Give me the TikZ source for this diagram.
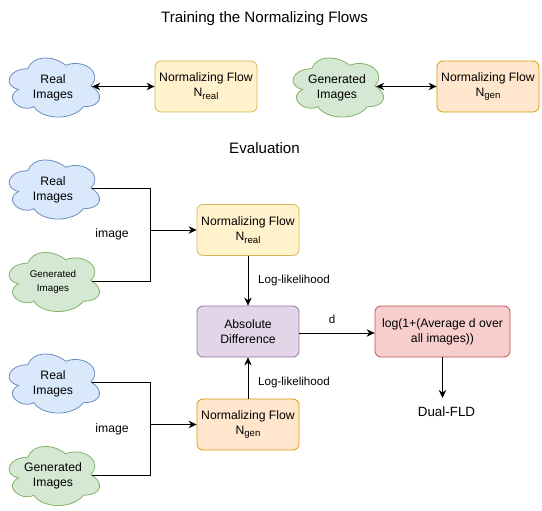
\documentclass[tikz,border=0pt]{standalone}
\usepackage{fontspec}
\setmainfont{Liberation Sans}
\usetikzlibrary{arrows.meta}
\definecolor{bluef}{HTML}{DAE8FC}\definecolor{blued}{HTML}{6C8EBF}
\definecolor{yelf}{HTML}{FFF2CC}\definecolor{yeld}{HTML}{D6B656}
\definecolor{grnf}{HTML}{D5E8D4}\definecolor{grnd}{HTML}{82B366}
\definecolor{orgf}{HTML}{FFE6CC}\definecolor{orgd}{HTML}{D79B00}
\definecolor{purf}{HTML}{E1D5E7}\definecolor{purd}{HTML}{9673A6}
\definecolor{redf}{HTML}{F8CECC}\definecolor{redd}{HTML}{B85450}
\newcommand{\body}{\fontsize{12.2}{15}\selectfont}
\newcommand{\smallbody}{\fontsize{9.8}{13.5}\selectfont}
\newcommand{\edgefont}{\fontsize{11.6}{15}\selectfont}
\newcommand{\sbs}[1]{\raisebox{-2.8pt}{\fontsize{9.6}{10}\selectfont #1}}
\tikzset{
  boxstyle/.style={draw=#1!100,rounded corners=6pt,minimum width=102pt,minimum height=51pt,align=center,line width=0.8pt,inner sep=0pt,font=\body},
  cloudlabel/.style={minimum width=78pt,minimum height=40pt,align=center,inner sep=0pt,font=\body},
  lbl/.style={font=\body,inner sep=0pt},
  title/.style={font=\fontsize{15.1}{18}\selectfont,inner sep=0pt},
  conn/.style={draw=black,line width=0.95pt,-{Stealth[length=8pt,width=7.5pt]}},
  plainconn/.style={draw=black,line width=0.95pt},
  biconn/.style={draw=black,line width=0.95pt,{Stealth[length=8pt,width=7.5pt]}-{Stealth[length=8pt,width=7.5pt]}},
  upone/.style={yshift=1pt},
}
% cloud: #1 name, #2 center x, #3 center y, #4 fill, #5 draw, #6 text, #7 font
\newcommand{\cloudat}[7]{%
  \begin{scope}[shift={(#2-50.5,#3-35)}]
  \filldraw[fill=#4,draw=#5,line width=0.8pt]
    (25.25,17.25) .. controls (5.05,17.25) and (0,34.5) .. (16.16,37.95)
    .. controls (0,45.54) and (18.18,62.1) .. (31.31,55.2)
    .. controls (40.4,69) and (70.7,69) .. (80.8,55.2)
    .. controls (101,55.2) and (101,41.4) .. (88.4,34.5)
    .. controls (101,20.7) and (80.8,6.9) .. (63.1,13.8)
    .. controls (50.5,3.45) and (30.3,3.45) .. (25.25,17.25) -- cycle;
  \end{scope}
  \node[cloudlabel,font=#7] (#1) at (#2,#3+1) {#6};
}
\begin{document}
\begin{tikzpicture}[x=1pt,y=-1pt]
\useasboundingbox (0,0) rectangle (542,511);
\node[title] (t1) at (264.5,19) {Training the Normalizing Flows};
\node[title] (t2) at (264.5,148) {Evaluation};

\cloudat{c1}{53}{86.5}{bluef}{blued}{Real\\Images}{\body}
\cloudat{c2}{337}{86.5}{grnf}{grnd}{Generated\\Images}{\body}
\cloudat{c3}{53}{188.5}{bluef}{blued}{Real\\Images}{\body}
\cloudat{c4}{53}{281}{grnf}{grnd}{Generated\\Images}{\smallbody}
\cloudat{c5}{53}{382.5}{bluef}{blued}{Real\\Images}{\body}
\cloudat{c6}{53}{475}{grnf}{grnd}{Generated\\Images}{\body}

\node[boxstyle=yeld,fill=yelf] (n1) at (206,86.5) {Normalizing Flow\\N\sbs{real}};
\node[boxstyle=orgd,fill=orgf] (n2) at (488,86.5) {Normalizing Flow\\N\sbs{gen}};
\node[boxstyle=yeld,fill=yelf] (n3) at (248,230) {Normalizing Flow\\N\sbs{real}};
\node[boxstyle=orgd,fill=orgf] (n4) at (248,424.5) {Normalizing Flow\\N\sbs{gen}};
\node[boxstyle=purd,fill=purf] (ab) at (248,331.5) {Absolute\\Difference};
\node[boxstyle=redd,fill=redf,minimum width=135pt] (lg) at (442.5,331.5) {log(1+(Average d over\\all images))};
\node[lbl,font=\fontsize{13.4}{16}\selectfont] (du) at (446.5,412) {Dual-FLD};

\coordinate (j1) at (150,230);
\coordinate (j2) at (150,424.5);
\coordinate (du1) at (442.5,398);

\draw[biconn] ([upone]c1.east) -- (n1.west);
\draw[biconn] ([upone]c2.east) -- (n2.west);
\draw[plainconn] ([upone]c3.east) -| (j1);
\draw[plainconn] ([upone]c4.east) -| (j1);
\draw[conn] (j1) -- (n3.west);
\draw[plainconn] ([upone]c5.east) -| (j2);
\draw[plainconn] ([upone]c6.east) -| (j2);
\draw[conn] (j2) -- (n4.west);
\draw[conn] (n3.south) -- (ab.north);
\draw[conn] (n4.north) -- (ab.south);
\draw[conn] ([yshift=-1.5pt]ab.east) -- ([yshift=-1.5pt]lg.west);
\draw[conn] (lg.south) -- (du1);

\node[lbl] (l1) at (112,234) {image};
\node[lbl] (l2) at (112,429) {image};
\node[lbl,font=\edgefont] (l3) at (294,281) {Log-likelihood};
\node[lbl,font=\edgefont] (l4) at (294,383) {Log-likelihood};
\node[lbl,font=\edgefont] (l5) at (332,319) {d};
\end{tikzpicture}
\end{document}
